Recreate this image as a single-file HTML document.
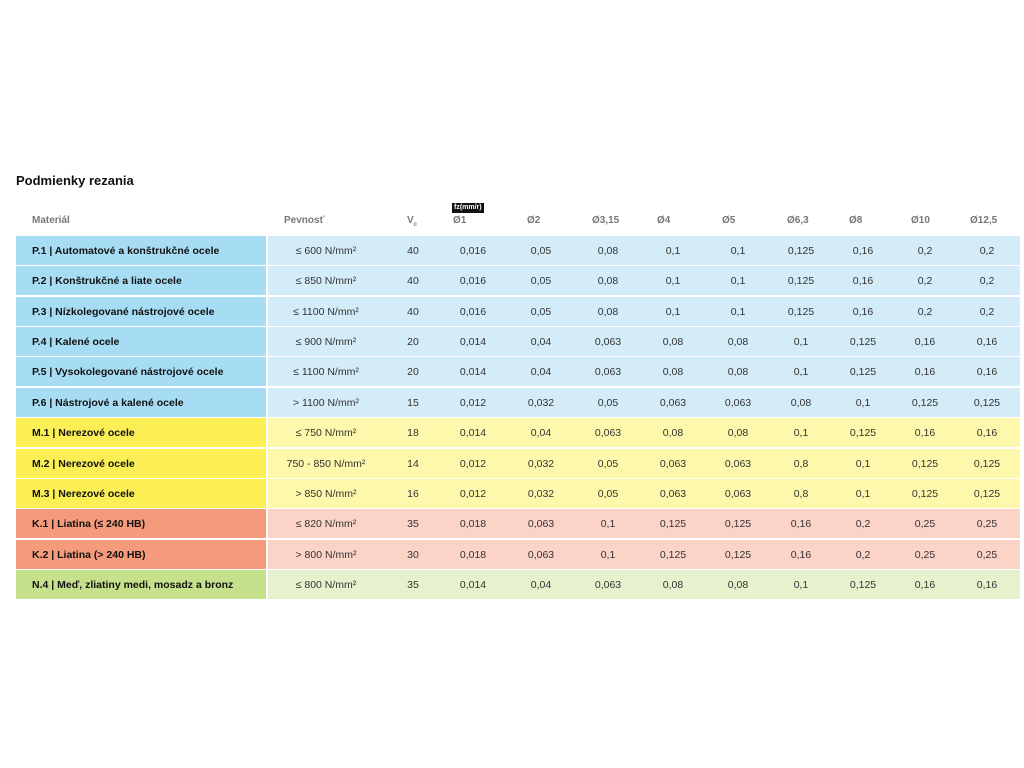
<!DOCTYPE html>
<html><head><meta charset="utf-8"><style>
body{margin:0;width:1024px;height:768px;background:#fff;font-family:"Liberation Sans",sans-serif;position:relative;overflow:hidden}
.t{position:absolute;left:16px;top:173px;font-size:13px;font-weight:bold;color:#111}
.h{position:absolute;top:215px;font-size:10px;font-weight:bold;color:#777}
.row{position:absolute;left:16px;width:1004px;height:29px}
.a{position:absolute;left:0;top:0;width:250px;height:29px}
.b{position:absolute;left:252px;top:0;width:752px;height:29px}
.n{position:absolute;left:16px;top:1px;line-height:29px;font-size:10.5px;font-weight:bold;color:#111;white-space:nowrap}
.v{position:absolute;top:1px;line-height:29px;font-size:10.5px;color:#333;transform:translateX(-50%);white-space:nowrap}
</style></head><body>
<div class="t">Podmienky rezania</div>
<div class="h" style="left:32px">Materiál</div>
<div class="h" style="left:284px">Pevnosť</div>
<div class="h" style="left:407px">V<sub style="font-size:6px">c</sub></div>
<div style="position:absolute;left:452px;top:203px;background:#111;color:#fff;font-size:7px;font-weight:bold;padding:0 2px;line-height:10px">fz(mm/r)</div>
<div class="h" style="left:453px">Ø1</div>
<div class="h" style="left:527px">Ø2</div>
<div class="h" style="left:592px">Ø3,15</div>
<div class="h" style="left:657px">Ø4</div>
<div class="h" style="left:722px">Ø5</div>
<div class="h" style="left:787px">Ø6,3</div>
<div class="h" style="left:849px">Ø8</div>
<div class="h" style="left:911px">Ø10</div>
<div class="h" style="left:970px">Ø12,5</div>
<div id="rows"></div>
<script>
var d=[
["P.1 | Automatové a konštrukčné ocele","≤ 600 N/mm²","40","0,016","0,05","0,08","0,1","0,1","0,125","0,16","0,2","0,2","b"],
["P.2 | Konštrukčné a liate ocele","≤ 850 N/mm²","40","0,016","0,05","0,08","0,1","0,1","0,125","0,16","0,2","0,2","b"],
["P.3 | Nízkolegované nástrojové ocele","≤ 1100 N/mm²","40","0,016","0,05","0,08","0,1","0,1","0,125","0,16","0,2","0,2","b"],
["P.4 | Kalené ocele","≤ 900 N/mm²","20","0,014","0,04","0,063","0,08","0,08","0,1","0,125","0,16","0,16","b"],
["P.5 | Vysokolegované nástrojové ocele","≤ 1100 N/mm²","20","0,014","0,04","0,063","0,08","0,08","0,1","0,125","0,16","0,16","b"],
["P.6 | Nástrojové a kalené ocele","> 1100 N/mm²","15","0,012","0,032","0,05","0,063","0,063","0,08","0,1","0,125","0,125","b"],
["M.1 | Nerezové ocele","≤ 750 N/mm²","18","0,014","0,04","0,063","0,08","0,08","0,1","0,125","0,16","0,16","y"],
["M.2 | Nerezové ocele","750 - 850 N/mm²","14","0,012","0,032","0,05","0,063","0,063","0,8","0,1","0,125","0,125","y"],
["M.3 | Nerezové ocele","> 850 N/mm²","16","0,012","0,032","0,05","0,063","0,063","0,8","0,1","0,125","0,125","y"],
["K.1 | Liatina (≤ 240 HB)","≤ 820 N/mm²","35","0,018","0,063","0,1","0,125","0,125","0,16","0,2","0,25","0,25","o"],
["K.2 | Liatina (> 240 HB)","> 800 N/mm²","30","0,018","0,063","0,1","0,125","0,125","0,16","0,2","0,25","0,25","o"],
["N.4 | Meď, zliatiny medi, mosadz a bronz","≤ 800 N/mm²","35","0,014","0,04","0,063","0,08","0,08","0,1","0,125","0,16","0,16","g"]];
var c={b:["#a6ddf4","#d3ecf8"],y:["#fcef55","#fdf8ab"],o:["#f59a7b","#fbd3c7"],g:["#c6e18c","#e6f1cd"]};
var xs=[326,413,473,541,608,673,738,801,863,925,987];
var h="";
d.forEach(function(r,i){var col=c[r[12]];var top=Math.round(236+i*30.36);
h+='<div class="row" style="top:'+top+'px"><div class="a" style="background:'+col[0]+'"><div class="n">'+r[0]+'</div></div><div class="b" style="background:'+col[1]+'"></div>';
for(var k=0;k<11;k++)h+='<div class="v" style="left:'+(xs[k]-16)+'px">'+r[k+1]+'</div>';
h+='</div>';});
document.getElementById("rows").innerHTML=h;
</script>
</body></html>
